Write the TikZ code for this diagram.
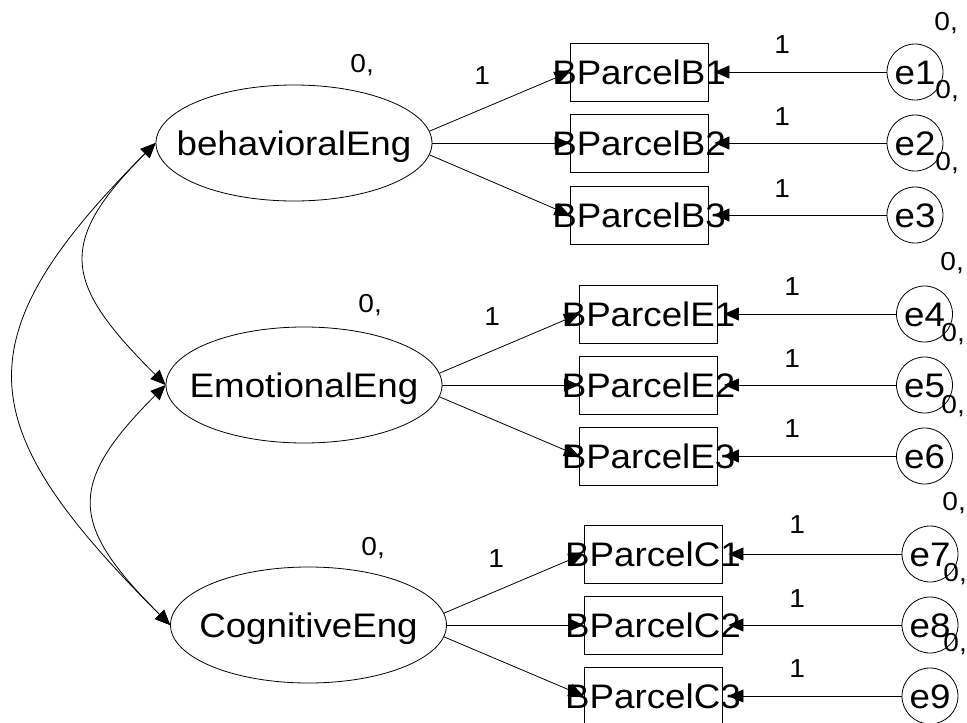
\documentclass[tikz,border=0pt]{standalone}
\usepackage{fontspec}
\setmainfont{Liberation Sans}[FakeStretch=1.08]
\usetikzlibrary{arrows.meta,shapes.geometric}

\begin{document}
\begin{tikzpicture}[x=1pt,y=-1pt,
  line width=0.8pt,
  >={Triangle[length=15pt,width=13pt]},
  bigfont/.style={font=\fontsize{34}{34}\selectfont, text height=24pt, text depth=0pt, inner sep=0pt},
  latent/.style={ellipse, draw, minimum width=276pt, minimum height=116pt, inner sep=0pt},
  obs/.style={rectangle, draw, minimum width=138pt, minimum height=58pt, inner sep=0pt},
  err/.style={circle, draw, minimum size=56pt, inner sep=0pt, bigfont},
  num/.style={font=\fontsize{26}{26}\selectfont, anchor=base west, inner sep=0pt},
  path/.style={->},
  errpath/.style={->, shorten >=6pt},
  cov/.style={<->}
]
\useasboundingbox (0,0) rectangle (967,723);
\clip (0,0) rectangle (967,723);

% latent factors
\node[latent, label={[bigfont]center:behavioralEng}] (beh) at (294,143) {};
\node[latent, label={[bigfont]center:EmotionalEng}] (emo) at (304,385) {};
\node[latent, label={[bigfont]center:CognitiveEng}] (cog) at (308.5,625) {};

% observed parcels
\node[obs, label={[bigfont]center:BParcelB1}] (B1) at (639,72) {};
\node[obs, label={[bigfont]center:BParcelB2}] (B2) at (639,143) {};
\node[obs, label={[bigfont]center:BParcelB3}] (B3) at (639,215) {};
\node[obs, label={[bigfont]center:BParcelE1}] (E1) at (648.5,314) {};
\node[obs, label={[bigfont]center:BParcelE2}] (E2) at (648.5,385) {};
\node[obs, label={[bigfont]center:BParcelE3}] (E3) at (648.5,456) {};
\node[obs, label={[bigfont]center:BParcelC1}] (C1) at (653,554) {};
\node[obs, label={[bigfont]center:BParcelC2}] (C2) at (653,625) {};
\node[obs, label={[bigfont]center:BParcelC3}] (C3) at (653,696) {};

% error terms
\node[err] (e1) at (915,72) {e1};
\node[err] (e2) at (915,143) {e2};
\node[err] (e3) at (915,215) {e3};
\node[err] (e4) at (924.5,314) {e4};
\node[err] (e5) at (924.5,385) {e5};
\node[err] (e6) at (924.5,456) {e6};
\node[err] (e7) at (930,554) {e7};
\node[err] (e8) at (930,625) {e8};
\node[err] (e9) at (930,696) {e9};

% loadings
\draw[path] (beh.5) -- (B1.west);
\draw[path] (beh.east) -- (B2.west);
\draw[path] (beh.-5) -- (B3.west);
\draw[path] (emo.5) -- (E1.west);
\draw[path] (emo.east) -- (E2.west);
\draw[path] (emo.-5) -- (E3.west);
\draw[path] (cog.5) -- (C1.west);
\draw[path] (cog.east) -- (C2.west);
\draw[path] (cog.-5) -- (C3.west);

% residual paths
\draw[errpath] (e1.west) -- (B1.east);
\draw[errpath] (e2.west) -- (B2.east);
\draw[errpath] (e3.west) -- (B3.east);
\draw[errpath] (e4.west) -- (E1.east);
\draw[errpath] (e5.west) -- (E2.east);
\draw[errpath] (e6.west) -- (E3.east);
\draw[errpath] (e7.west) -- (C1.east);
\draw[errpath] (e8.west) -- (C2.east);
\draw[errpath] (e9.west) -- (C3.east);

% factor covariances
\draw[cov] (beh.west) .. controls +(-101,101) and +(-101,-101) .. (emo.west);
\draw[cov] (emo.west) .. controls +(-100,100) and +(-100,-100) .. (cog.west);
\draw[cov] (beh.west) .. controls +(-198,198) and +(-198,-198) .. (cog.west);

% factor variances and fixed loadings
\node[num] (vbeh) at (350,72) {0,};
\node[num] (vemo) at (358,312) {0,};
\node[num] (vcog) at (361,555) {0,};
\node[num] (lbeh) at (474,84) {1};
\node[num] (lemo) at (484,325) {1};
\node[num] (lcog) at (488,567) {1};

% residual weights
\node[num] (w1) at (774,53) {1};
\node[num] (w2) at (774,125) {1};
\node[num] (w3) at (774,197) {1};
\node[num] (w4) at (784,295) {1};
\node[num] (w5) at (784,367) {1};
\node[num] (w6) at (784,437) {1};
\node[num] (w7) at (789,533) {1};
\node[num] (w8) at (789,607) {1};
\node[num] (w9) at (789,677) {1};

% residual variances
\node[num] (v1) at (934,30) {0,};
\node[num] (v2) at (935,98) {0,};
\node[num] (v3) at (935,170) {0,};
\node[num] (v4) at (940,270) {0,};
\node[num] (v5) at (941,341) {0,};
\node[num] (v6) at (941,413) {0,};
\node[num] (v7) at (942,510) {0,};
\node[num] (v8) at (943,581) {0,};
\node[num] (v9) at (943,651) {0,};
\end{tikzpicture}
\end{document}
